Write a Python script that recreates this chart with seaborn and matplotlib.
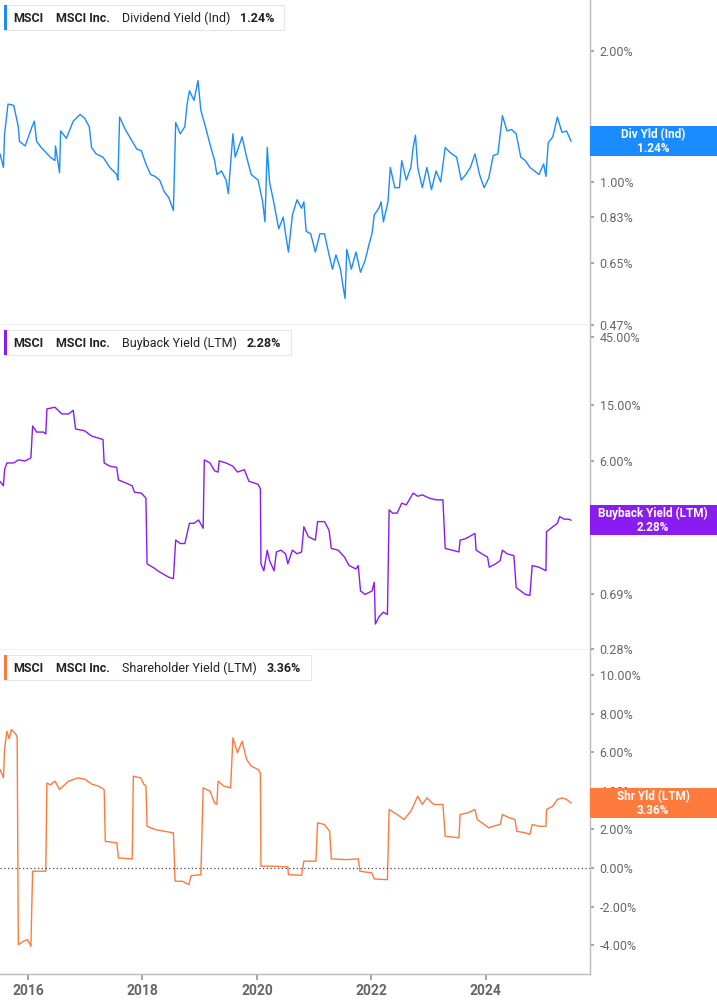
import matplotlib
matplotlib.use("Agg")
import matplotlib.pyplot as plt
import matplotlib.ticker as mticker
import seaborn as sns
import pandas as pd

# ---- data (decimal years, values in %) ----
div_dates = [2015.51, 2015.57, 2015.59, 2015.65, 2015.75, 2015.83, 2015.85, 2015.95, 2016.07, 2016.11,
             2016.15, 2016.23, 2016.31, 2016.39, 2016.47, 2016.48, 2016.55, 2016.57, 2016.67, 2016.79,
             2016.91, 2016.99, 2017.07, 2017.11, 2017.19, 2017.31, 2017.43, 2017.55, 2017.57, 2017.60,
             2017.70, 2017.82, 2017.90, 2017.98, 2018.06, 2018.14, 2018.22, 2018.30, 2018.38, 2018.46,
             2018.54, 2018.58, 2018.66, 2018.74, 2018.78, 2018.82, 2018.90, 2018.97, 2019.02, 2019.10,
             2019.18, 2019.26, 2019.30, 2019.38, 2019.46, 2019.50, 2019.58, 2019.62, 2019.74, 2019.82,
             2019.90, 2020.02, 2020.10, 2020.14, 2020.18, 2020.22, 2020.30, 2020.38, 2020.46, 2020.50,
             2020.55, 2020.62, 2020.70, 2020.78, 2020.82, 2020.86, 2020.94, 2021.02, 2021.10, 2021.18,
             2021.26, 2021.32, 2021.38, 2021.46, 2021.50, 2021.54, 2021.57, 2021.65, 2021.73, 2021.81,
             2021.89, 2021.96, 2022.01, 2022.05, 2022.13, 2022.17, 2022.21, 2022.29, 2022.33, 2022.41,
             2022.49, 2022.53, 2022.61, 2022.69, 2022.73, 2022.77, 2022.81, 2022.89, 2022.97, 2023.05,
             2023.13, 2023.21, 2023.29, 2023.37, 2023.49, 2023.57, 2023.65, 2023.73, 2023.81, 2023.89,
             2023.97, 2024.05, 2024.13, 2024.21, 2024.29, 2024.37, 2024.45, 2024.53, 2024.61, 2024.69,
             2024.77, 2024.85, 2024.93, 2025.01, 2025.05, 2025.09, 2025.17, 2025.25, 2025.33, 2025.41,
             2025.49]
div_yield = [1.16, 1.08, 1.29, 1.51, 1.50, 1.34, 1.24, 1.21, 1.34, 1.38,
             1.24, 1.20, 1.17, 1.14, 1.12, 1.21, 1.05, 1.31, 1.26, 1.38,
             1.43, 1.40, 1.34, 1.20, 1.16, 1.14, 1.08, 1.04, 1.01, 1.41,
             1.32, 1.24, 1.19, 1.18, 1.10, 1.04, 1.03, 1.01, 0.95, 0.92,
             0.86, 1.37, 1.29, 1.34, 1.51, 1.62, 1.54, 1.71, 1.46, 1.34,
             1.22, 1.12, 1.04, 1.06, 1.01, 0.94, 1.29, 1.14, 1.27, 1.14,
             1.04, 1.01, 0.90, 0.81, 1.20, 1.00, 0.89, 0.78, 0.83, 0.76,
             0.69, 0.84, 0.91, 0.87, 0.90, 0.77, 0.76, 0.69, 0.76, 0.76,
             0.68, 0.63, 0.68, 0.63, 0.58, 0.54, 0.70, 0.63, 0.69, 0.62,
             0.66, 0.72, 0.76, 0.84, 0.87, 0.90, 0.81, 0.90, 1.08, 0.97,
             0.97, 1.12, 1.01, 1.08, 1.20, 1.28, 1.08, 0.97, 1.08, 0.96,
             1.06, 1.00, 1.20, 1.17, 1.14, 1.01, 1.04, 1.08, 1.16, 1.04,
             0.97, 1.02, 1.15, 1.16, 1.42, 1.31, 1.32, 1.29, 1.14, 1.12,
             1.08, 1.06, 1.04, 1.10, 1.03, 1.23, 1.27, 1.41, 1.30, 1.31,
             1.24]

bb_dates = [2015.51, 2015.57, 2015.59, 2015.63, 2015.75, 2015.83, 2015.95, 2016.05, 2016.08, 2016.15,
            2016.27, 2016.31, 2016.33, 2016.47, 2016.59, 2016.71, 2016.79, 2016.83, 2016.99, 2017.11,
            2017.31, 2017.33, 2017.43, 2017.55, 2017.58, 2017.70, 2017.82, 2017.86, 2017.98, 2018.06,
            2018.08, 2018.18, 2018.30, 2018.46, 2018.54, 2018.58, 2018.66, 2018.74, 2018.78, 2018.82,
            2018.90, 2018.98, 2019.06, 2019.08, 2019.18, 2019.26, 2019.32, 2019.34, 2019.46, 2019.58,
            2019.66, 2019.78, 2019.86, 2020.02, 2020.06, 2020.07, 2020.12, 2020.18, 2020.22, 2020.30,
            2020.34, 2020.42, 2020.50, 2020.54, 2020.62, 2020.70, 2020.78, 2020.82, 2020.90, 2021.02,
            2021.06, 2021.18, 2021.26, 2021.30, 2021.42, 2021.53, 2021.61, 2021.73, 2021.77, 2021.81,
            2021.89, 2022.01, 2022.05, 2022.07, 2022.13, 2022.21, 2022.28, 2022.31, 2022.37, 2022.45,
            2022.53, 2022.61, 2022.73, 2022.81, 2022.89, 2023.01, 2023.13, 2023.25, 2023.29, 2023.41,
            2023.53, 2023.55, 2023.65, 2023.81, 2023.83, 2023.93, 2024.03, 2024.06, 2024.17, 2024.25,
            2024.29, 2024.37, 2024.49, 2024.53, 2024.61, 2024.69, 2024.77, 2024.81, 2024.93, 2025.05,
            2025.06, 2025.17, 2025.25, 2025.29, 2025.37, 2025.45, 2025.49]
bb_yield = [4.3, 4.0, 5.2, 5.8, 5.8, 6.1, 6.0, 6.3, 10.6, 9.6,
            9.6, 9.3, 14.0, 14.4, 12.9, 12.9, 13.7, 10.1, 9.8, 9.0,
            8.5, 5.8, 5.5, 5.4, 4.4, 4.2, 4.0, 3.6, 3.55, 3.27,
            1.12, 1.06, 0.98, 0.90, 0.88, 1.65, 1.56, 1.56, 1.84, 2.17,
            2.17, 2.29, 2.00, 6.1, 5.8, 5.1, 5.0, 6.0, 5.8, 5.5,
            5.0, 5.2, 4.3, 4.1, 3.8, 1.12, 1.00, 1.40, 1.18, 1.00,
            1.36, 1.40, 1.32, 1.12, 1.40, 1.32, 1.36, 2.05, 1.74, 1.65,
            2.23, 2.23, 1.94, 1.44, 1.40, 1.25, 1.09, 1.03, 1.09, 0.72,
            0.68, 0.72, 0.83, 0.42, 0.47, 0.51, 0.49, 2.70, 2.56, 2.56,
            3.01, 2.93, 3.55, 3.37, 3.45, 3.27, 3.18, 3.18, 1.44, 1.40,
            1.36, 1.65, 1.69, 1.84, 1.40, 1.32, 1.25, 1.06, 1.12, 1.18,
            1.40, 1.32, 1.28, 0.76, 0.72, 0.68, 0.67, 1.09, 1.06, 1.00,
            1.89, 2.05, 2.17, 2.42, 2.32, 2.32, 2.28]

shr_dates = [2015.51, 2015.57, 2015.59, 2015.63, 2015.67, 2015.71, 2015.79, 2015.81, 2015.83, 2015.91,
             2015.99, 2016.05, 2016.08, 2016.31, 2016.33, 2016.39, 2016.47, 2016.55, 2016.71, 2016.87,
             2016.99, 2017.11, 2017.23, 2017.33, 2017.35, 2017.55, 2017.58, 2017.82, 2017.84, 2017.97,
             2018.02, 2018.06, 2018.08, 2018.22, 2018.38, 2018.54, 2018.57, 2018.70, 2018.81, 2018.85,
             2019.02, 2019.06, 2019.18, 2019.26, 2019.30, 2019.32, 2019.42, 2019.54, 2019.58, 2019.66,
             2019.74, 2019.82, 2019.90, 2020.02, 2020.06, 2020.07, 2020.30, 2020.54, 2020.55, 2020.78,
             2020.82, 2021.03, 2021.06, 2021.18, 2021.27, 2021.30, 2021.57, 2021.77, 2021.80, 2022.01,
             2022.05, 2022.28, 2022.31, 2022.45, 2022.57, 2022.69, 2022.81, 2022.89, 2022.97, 2023.09,
             2023.25, 2023.29, 2023.53, 2023.55, 2023.69, 2023.81, 2023.85, 2023.97, 2024.05, 2024.17,
             2024.25, 2024.29, 2024.41, 2024.51, 2024.54, 2024.69, 2024.77, 2024.81, 2024.93, 2025.05,
             2025.06, 2025.17, 2025.25, 2025.33, 2025.41, 2025.49]
shr_yield = [5.1, 4.67, 6.14, 7.09, 6.7, 7.18, 6.92, 6.75, -3.98, -3.81,
             -3.72, -4.07, -0.17, -0.17, 4.41, 4.3, 4.50, 4.07, 4.5, 4.67,
             4.6, 4.35, 4.24, 4.07, 1.38, 1.30, 0.52, 0.47, 4.76, 4.67,
             4.35, 4.24, 2.16, 1.99, 1.90, 1.82, -0.69, -0.69, -0.87, -0.40,
             -0.35, 4.15, 3.98, 3.37, 3.29, 4.50, 4.24, 4.15, 6.75, 5.97,
             6.57, 5.62, 5.28, 5.10, 4.93, 0.09, 0.09, 0.05, -0.35, -0.38,
             0.35, 0.35, 2.34, 2.25, 1.90, 0.47, 0.43, 0.47, -0.17, -0.26,
             -0.57, -0.61, 3.03, 2.77, 2.51, 2.94, 3.72, 3.29, 3.63, 3.29,
             3.29, 1.64, 1.56, 2.77, 2.86, 3.03, 2.51, 2.25, 2.08, 2.20,
             2.25, 2.77, 2.60, 2.51, 1.90, 1.82, 1.73, 2.25, 2.16, 2.16,
             3.03, 3.20, 3.55, 3.63, 3.55, 3.36]

panels = [
    dict(dates=div_dates, vals=div_yield, color="#1a8cff", name="Dividend Yield (Ind)", last="1.24%",
         tag="Div Yld (Ind)", log=True, ylim=(0.469, 2.62), ticks=[2.0, 1.0, 0.83, 0.65, 0.47]),
    dict(dates=bb_dates, vals=bb_yield, color="#8a1cf2", name="Buyback Yield (LTM)", last="2.28%",
         tag="Buyback Yield (LTM)", log=True, ylim=(0.275, 55), ticks=[45.0, 15.0, 6.0, 2.0, 0.69, 0.28]),
    dict(dates=shr_dates, vals=shr_yield, color="#ff7a3d", name="Shareholder Yield (LTM)", last="3.36%",
         tag="Shr Yld (LTM)", log=False, ylim=(-5.5, 11.3), ticks=[10, 8, 6, 4, 2, 0, -2, -4]),
]
year_ticks = [2016, 2018, 2020, 2022, 2024]

sns.set_theme(style="white")
plt.rcParams["font.family"] = "Roboto"
W, H = 717, 1005
fig = plt.figure(figsize=(W / 100, H / 100), dpi=100)
boxes = [(0, 325), (325, 650), (650, 974)]
grey = "#9a9a9a"

axes = []
for p, (top, bot) in zip(panels, boxes):
    ax = fig.add_axes([0, 1 - bot / H, 590 / W, (bot - top) / H])
    df = pd.DataFrame({"date": p["dates"], "value": p["vals"]})
    sns.lineplot(data=df, x="date", y="value", ax=ax, color=p["color"], linewidth=1.0)
    if p["log"]:
        ax.set_yscale("log")
    ax.set_ylim(*p["ylim"])
    ax.set_xlim(2015.51, 2025.82)
    ax.yaxis.tick_right()
    ax.yaxis.set_major_locator(mticker.FixedLocator(p["ticks"]))
    ax.yaxis.set_minor_locator(mticker.NullLocator())
    ax.yaxis.set_major_formatter(mticker.FuncFormatter(lambda v, _: f"{v:.2f}%"))
    ax.tick_params(axis="y", right=True, length=3, color=grey, labelsize=9, labelcolor="#666666", pad=4)
    ax.set_xlabel("")
    ax.set_ylabel("")
    for s in ["top", "left"]:
        ax.spines[s].set_visible(False)
    for s in ["right", "bottom"]:
        ax.spines[s].set_color("#bbbbbb")
        ax.spines[s].set_linewidth(1.0)
    ax.set_xticks(year_ticks)
    if bot == 974:
        ax.set_xticklabels([str(y) for y in year_ticks])
        ax.tick_params(axis="x", bottom=True, length=4, color=grey, labelsize=10, labelcolor="#666666")
        for lbl in ax.get_xticklabels():
            lbl.set_fontweight("bold")
        ax.axhline(0, color="#444444", linestyle=(0, (1, 2)), linewidth=0.9)
    else:
        ax.tick_params(axis="x", bottom=False, labelbottom=False)
    axes.append(ax)

# overlay in pixel coordinates for headers and value tags
ov = fig.add_axes([0, 0, 1, 1], facecolor="none")
ov.set_xlim(0, W)
ov.set_ylim(H, 0)
ov.axis("off")
fig.canvas.draw()

for p, ax, (top, bot) in zip(panels, axes, boxes):
    ymid = top + 18
    t0 = ov.text(13, ymid, "MSCI", fontsize=9, fontweight="bold", color="#222222", va="center", zorder=5)
    t1 = ov.annotate("MSCI Inc.", xy=(1, 0.5), xycoords=t0, xytext=(9, 0), textcoords="offset points",
                     fontsize=9, fontweight="bold", color="#222222", va="center", zorder=5)
    t2 = ov.annotate(p["name"], xy=(1, 0.5), xycoords=t1, xytext=(9, 0), textcoords="offset points",
                     fontsize=9, color="#222222", va="center", zorder=5)
    t3 = ov.annotate(p["last"], xy=(1, 0.5), xycoords=t2, xytext=(7, 0), textcoords="offset points",
                     fontsize=9, fontweight="bold", color="#222222", va="center", zorder=5)
    fig.canvas.draw()
    x_end = t3.get_window_extent().x1 + 10
    ov.add_patch(plt.Rectangle((4, top + 5), x_end - 4, 25, facecolor="white",
                               edgecolor="#e6e6e6", linewidth=0.8, zorder=3))
    ov.add_patch(plt.Rectangle((4, top + 5), 3, 25, facecolor=p["color"], edgecolor="none", zorder=4))

    # right-hand value tag at the last value
    disp = ax.transData.transform((p["dates"][-1], p["vals"][-1]))
    ycen = H - disp[1]
    ov.add_patch(plt.Rectangle((590, ycen - 15), W - 590, 30, facecolor=p["color"],
                               edgecolor="none", zorder=3))
    ov.text(653, ycen, f"{p['tag']}\n{p['last']}", ha="center", va="center",
            fontsize=8.5, fontweight="bold", color="white", zorder=4, linespacing=1.1)

fig.savefig("out.png", dpi=100)
